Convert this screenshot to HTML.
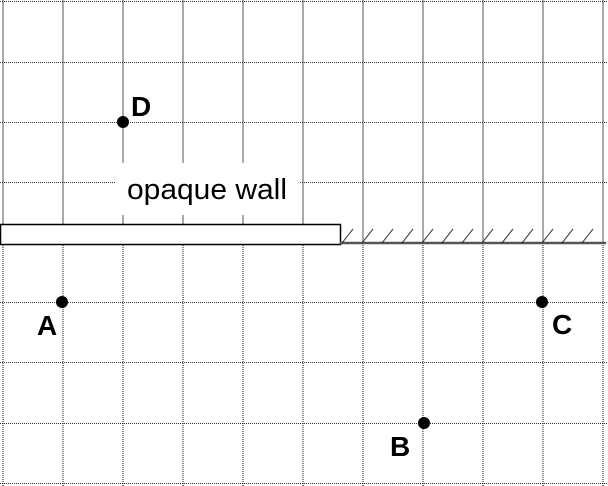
<!DOCTYPE html>
<html><head><style>html,body{margin:0;padding:0;background:#fff}svg{display:block}</style></head>
<body>
<svg width="608" height="486" xmlns="http://www.w3.org/2000/svg">
<g stroke="#aaa" stroke-width="2">
<line x1="3" y1="0" x2="3" y2="224"/><line x1="63" y1="0" x2="63" y2="224"/><line x1="123" y1="0" x2="123" y2="224"/><line x1="183" y1="0" x2="183" y2="224"/><line x1="243" y1="0" x2="243" y2="224"/><line x1="303" y1="0" x2="303" y2="224"/><line x1="363" y1="0" x2="363" y2="243"/><line x1="423" y1="0" x2="423" y2="243"/><line x1="483" y1="0" x2="483" y2="243"/><line x1="543" y1="0" x2="543" y2="243"/><line x1="603" y1="0" x2="603" y2="243"/>
</g>
<g stroke="#888" stroke-width="2" stroke-dasharray="1,1">
<line x1="3" y1="245" x2="3" y2="486"/><line x1="63" y1="245" x2="63" y2="486"/><line x1="123" y1="245" x2="123" y2="486"/><line x1="183" y1="245" x2="183" y2="486"/><line x1="243" y1="245" x2="243" y2="486"/><line x1="303" y1="245" x2="303" y2="486"/><line x1="363" y1="245" x2="363" y2="486"/><line x1="423" y1="245" x2="423" y2="486"/><line x1="483" y1="245" x2="483" y2="486"/><line x1="543" y1="245" x2="543" y2="486"/><line x1="603" y1="245" x2="603" y2="486"/>
</g>
<g stroke="#333" stroke-width="1" stroke-dasharray="1,1">
<line x1="0" y1="1.5" x2="608" y2="1.5"/><line x1="0" y1="62.5" x2="608" y2="62.5"/><line x1="0" y1="122.5" x2="608" y2="122.5"/><line x1="0" y1="182.5" x2="608" y2="182.5"/><line x1="0" y1="302.5" x2="608" y2="302.5"/><line x1="0" y1="362.5" x2="608" y2="362.5"/><line x1="0" y1="423.5" x2="608" y2="423.5"/><line x1="0" y1="483.5" x2="608" y2="483.5"/>
</g>
<rect x="116" y="163" width="184" height="52" fill="#fff"/>
<text x="127" y="199" font-family="Liberation Sans, sans-serif" font-size="29" textLength="160" lengthAdjust="spacingAndGlyphs" fill="#000">opaque wall</text>
<rect x="0.5" y="224.5" width="340" height="20" fill="#fff" stroke="#000" stroke-width="1.5"/>
<line x1="340" y1="243" x2="606" y2="243" stroke="#555" stroke-width="2.5"/>
<g stroke="#222" stroke-width="1">
<line x1="342" y1="243" x2="353" y2="229"/><line x1="362" y1="243" x2="373" y2="229"/><line x1="382" y1="243" x2="393" y2="229"/><line x1="402" y1="243" x2="413" y2="229"/><line x1="422" y1="243" x2="433" y2="229"/><line x1="442" y1="243" x2="453" y2="229"/><line x1="462" y1="243" x2="473" y2="229"/><line x1="482" y1="243" x2="493" y2="229"/><line x1="502" y1="243" x2="513" y2="229"/><line x1="522" y1="243" x2="533" y2="229"/><line x1="542" y1="243" x2="553" y2="229"/><line x1="562" y1="243" x2="573" y2="229"/><line x1="582" y1="243" x2="593" y2="229"/>
</g>
<g fill="#000">
<circle cx="123" cy="122" r="6"/><circle cx="62" cy="302" r="6"/><circle cx="542" cy="302" r="6"/><circle cx="424" cy="423" r="6"/>
</g>
<g font-family="Liberation Sans, sans-serif" font-size="28" font-weight="bold" fill="#000">
<text x="131" y="116">D</text><text x="37" y="335">A</text><text x="552" y="334">C</text><text x="390" y="456">B</text>
</g>
</svg>
</body></html>
